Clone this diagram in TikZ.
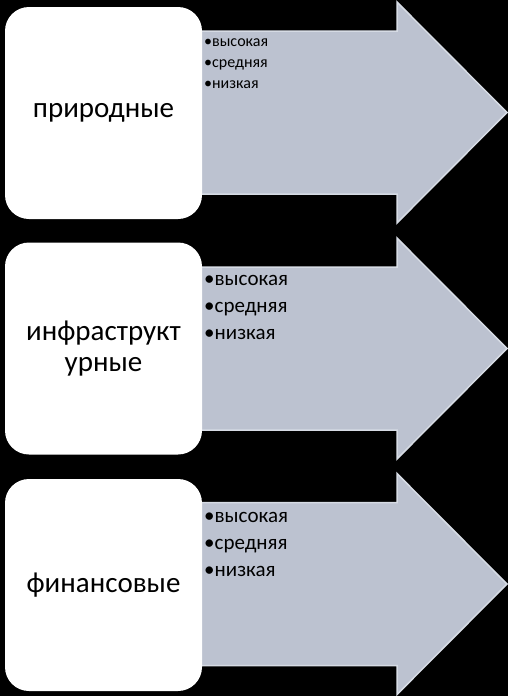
\documentclass[tikz,border=0pt]{standalone}
\usepackage{fontspec}
\setmainfont{Carlito}
\definecolor{arrowfill}{RGB}{188,194,208}
\definecolor{arrowline}{RGB}{214,219,228}

\begin{document}
\begin{tikzpicture}[x=1pt, y=-1pt,
    factor/.style={rectangle, rounded corners=24pt, minimum width=197pt, minimum height=212pt, fill=white, inner sep=0pt, align=center, font=\fontsize{29}{31}\selectfont},
    level/.style={fill=arrowfill, draw=arrowline, line width=1.5pt, line join=miter},
    item/.style={anchor=base west, inner sep=0pt}
]

    % Background
    \fill[black] (0,0) rectangle (508,696);

    % Arrows
    \foreach \yc in {112.5, 348.5, 584} {
        \draw[level] (200,\yc-81.5) -- (397,\yc-81.5) -- (397,\yc-110.5) -- (507,\yc)
            -- (397,\yc+110.5) -- (397,\yc+81.5) -- (200,\yc+81.5) -- cycle;
    }

    % Factors
    \node[factor] (natural) at (103.5,113) {природные};
    \node[factor] (infra) at (103.5,348.5) {инфраструкт\\урные};
    \node[factor] (finance) at (103.5,585) {финансовые};

    % Levels
    \foreach \lbl [count=\i] in {высокая, средняя, низкая} {
        \node[item, font=\fontsize{16}{19}\selectfont] (lvnat\i) at (204, 25+21*\i) {•\lbl};
        \node[item, font=\fontsize{21}{25}\selectfont] (lvinf\i) at (204, 258+27*\i) {•\lbl};
        \node[item, font=\fontsize{21}{25}\selectfont] (lvfin\i) at (204, 495+27*\i) {•\lbl};
    }

\end{tikzpicture}
\end{document}
